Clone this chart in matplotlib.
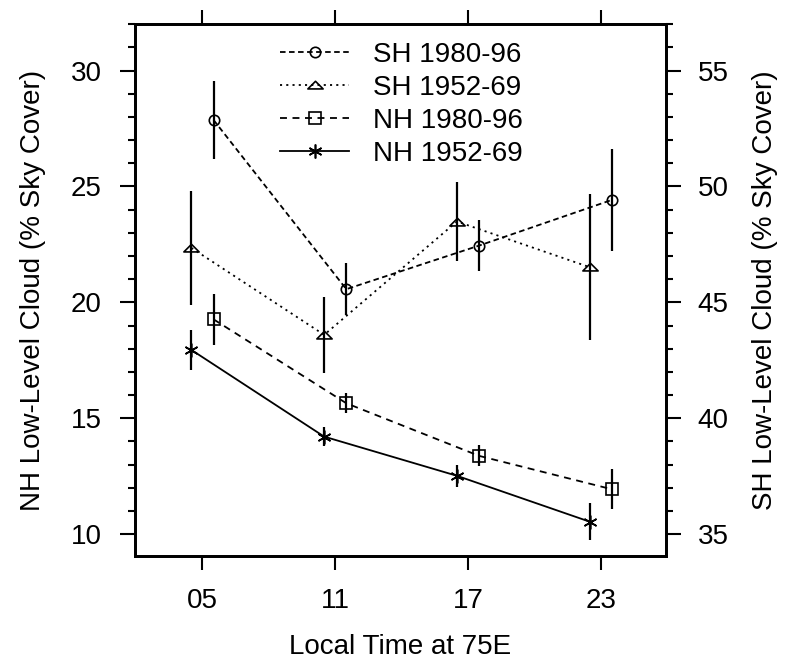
import matplotlib
matplotlib.use('Agg')
import matplotlib.pyplot as plt
from matplotlib.ticker import MultipleLocator, FixedLocator
from matplotlib.path import Path

plt.rcParams['font.family'] = ['Liberation Sans', 'DejaVu Sans']
plt.rcParams['lines.scale_dashes'] = False

# ---- data ----
tick_labels = ['05', '11', '17', '23']
tick_hours = [5, 11, 17, 23]
x_5269 = [4.5, 10.5, 16.5, 22.5]
x_8096 = [5.5, 11.5, 17.5, 23.5]

sh_8096 = [52.87, 45.57, 47.45, 49.42]
sh_8096_err = [1.7, 1.13, 1.1, 2.2]
sh_5269 = [47.35, 43.6, 48.49, 46.52]
sh_5269_err = [2.45, 1.65, 1.7, 3.15]
nh_8096 = [19.27, 15.65, 13.38, 11.94]
nh_8096_err = [1.1, 0.43, 0.45, 0.86]
nh_5269 = [17.95, 14.21, 12.52, 10.54]
nh_5269_err = [0.85, 0.4, 0.47, 0.8]

labels = ['SH 1980-96', 'SH 1952-69', 'NH 1980-96', 'NH 1952-69']

FS = 20
fig = plt.figure(figsize=(7.89, 6.6), dpi=100)
ax = fig.add_axes([135/789, 1-556/660, 531/789, 532/660])
ax2 = ax.twinx()

tri = Path([(0, 0.55), (-1, -0.45), (1, -0.45), (0, 0.55)],
           [Path.MOVETO, Path.LINETO, Path.LINETO, Path.CLOSEPOLY])

lw = 1.3
elw = 1.6
mew = 1.2

# SH on right axis
h1, = ax2.plot(x_8096, sh_8096, color='black', lw=lw, ls=(0, (4, 2.5)),
               marker='o', ms=7.5, mfc='none', mec='black', mew=mew)
ax2.errorbar(x_8096, sh_8096, yerr=sh_8096_err, fmt='none', ecolor='black',
             elinewidth=elw, capsize=0)
h2, = ax2.plot(x_5269, sh_5269, color='black', lw=lw, ls=(0, (1.5, 3)),
               marker=tri, ms=11, mfc='none', mec='black', mew=mew)
ax2.errorbar(x_5269, sh_5269, yerr=sh_5269_err, fmt='none', ecolor='black',
             elinewidth=elw, capsize=0)

# NH on left axis
h3, = ax.plot(x_8096, nh_8096, color='black', lw=lw, ls=(0, (5, 4)),
              marker='s', ms=9, mfc='none', mec='black', mew=mew)
ax.errorbar(x_8096, nh_8096, yerr=nh_8096_err, fmt='none', ecolor='black',
            elinewidth=elw, capsize=0)
h4, = ax.plot(x_5269, nh_5269, color='black', lw=lw, ls='-',
              marker=(6, 2, 0), ms=10, mfc='none', mec='black', mew=mew)
ax.errorbar(x_5269, nh_5269, yerr=nh_5269_err, fmt='none', ecolor='black',
            elinewidth=elw, capsize=0)

ax.set_xlim(1.95, 25.95)
ax.set_ylim(9.06, 32.01)
ax2.set_ylim(34.06, 57.01)

ax.xaxis.set_major_locator(FixedLocator(tick_hours))
ax.set_xticklabels(tick_labels)
ax.yaxis.set_major_locator(MultipleLocator(5))
ax.yaxis.set_minor_locator(MultipleLocator(1))
ax2.yaxis.set_major_locator(MultipleLocator(5))
ax2.yaxis.set_minor_locator(MultipleLocator(1))

ax.tick_params(axis='x', which='both', top=True, bottom=True, labeltop=False,
               direction='out', length=10, width=1.5, labelsize=FS, pad=13)
ax.tick_params(axis='y', which='major', direction='out', length=10.8,
               width=1.5, labelsize=FS, pad=13)
ax.tick_params(axis='y', which='minor', direction='out', length=5, width=1.5)
ax2.tick_params(axis='y', which='major', direction='out', length=10.8,
                width=1.5, labelsize=FS, pad=12)
ax2.tick_params(axis='y', which='minor', direction='out', length=5, width=1.5)

for a in (ax, ax2):
    for s in a.spines.values():
        s.set_linewidth(2)

ax.set_xlabel('Local Time at 75E', fontsize=FS)
ax.set_ylabel('NH Low-Level Cloud (% Sky Cover)', fontsize=FS)
ax2.set_ylabel('SH Low-Level Cloud (% Sky Cover)', fontsize=FS)
ax.xaxis.set_label_coords(0.5, (556-647)/532)
ax.yaxis.set_label_coords((33-135)/531, 0.5)
ax2.yaxis.set_label_coords((765-135)/531, 0.5)
for lab in (ax.xaxis.label, ax.yaxis.label, ax2.yaxis.label):
    lab.set_va('center')
    lab.set_ha('center')

ax2.legend([h1, h2, h3, h4], labels, loc='upper left',
           bbox_to_anchor=(280/789, 1-42/660), bbox_transform=fig.transFigure,
           frameon=False, borderpad=0, borderaxespad=0, handlelength=2.5,
           handletextpad=0.85, labelspacing=0.25, fontsize=FS)

fig.savefig('out.png', dpi=100)
